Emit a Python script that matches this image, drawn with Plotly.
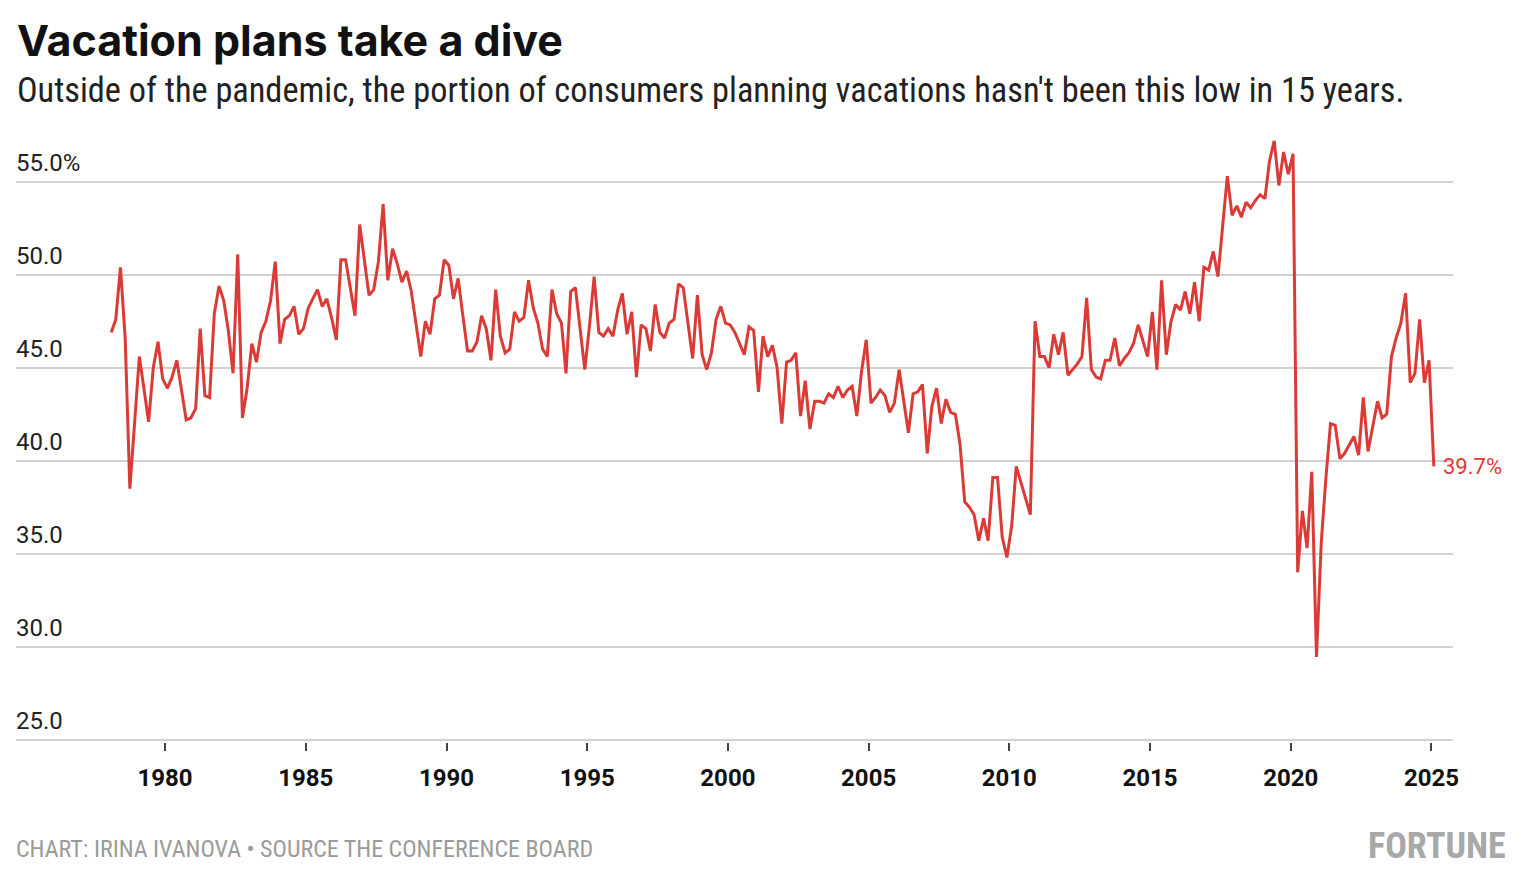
import pandas as pd
import plotly.graph_objects as go

# Share of consumers planning a vacation within six months (%), bi-monthly, Feb 1978 - Feb 2025
start_date = "1978-02-01"
vals_1978_1985 = [46.9, 47.6, 50.4, 46.6, 38.5, 42.0, 45.6, 43.9, 42.1, 45.0, 46.4, 44.4,
                  43.9, 44.5, 45.4, 43.8, 42.2, 42.3, 42.8, 47.1, 43.5, 43.4, 47.9, 49.4,
                  48.6, 47.0, 44.7, 51.1, 42.3, 43.9, 46.3, 45.3, 46.9, 47.5, 48.6, 50.7,
                  46.3, 47.6, 47.8, 48.3, 46.8, 47.1, 48.2, 48.7, 49.2, 48.3, 48.7]
vals_1986_1993 = [47.7, 46.5, 50.8, 50.8, 49.3, 47.8, 52.7, 50.6, 48.9, 49.2, 50.7, 53.8,
                  49.7, 51.4, 50.6, 49.6, 50.2, 49.1, 47.4, 45.6, 47.5, 46.8, 48.7, 48.9,
                  50.8, 50.5, 48.7, 49.8, 47.8, 45.9, 45.9, 46.4, 47.8, 47.1, 45.4, 49.2,
                  46.7, 45.8, 46.0, 48.0, 47.5, 47.7, 49.7, 48.2, 47.4, 46.0, 45.6]
vals_1994_2001 = [49.2, 47.9, 47.4, 44.7, 49.1, 49.3, 47.2, 44.9, 47.3, 49.9, 46.9, 46.7,
                  47.1, 46.7, 48.1, 49.0, 46.8, 48.0, 44.5, 47.3, 47.1, 45.9, 48.4, 46.9,
                  46.6, 47.4, 47.6, 49.5, 49.3, 47.4, 45.5, 48.9, 45.7, 44.9, 45.8, 47.6,
                  48.3, 47.4, 47.3, 46.9, 46.3, 45.7, 47.2, 47.0, 43.7, 46.7, 45.6]
vals_2002_2009 = [46.2, 45.0, 42.0, 45.3, 45.4, 45.8, 42.4, 44.3, 41.7, 43.2, 43.2, 43.1,
                  43.6, 43.4, 44.0, 43.4, 43.8, 44.0, 42.4, 44.8, 46.5, 43.1, 43.4, 43.8,
                  43.5, 42.6, 43.1, 44.9, 43.1, 41.5, 43.6, 43.7, 44.1, 40.4, 42.9, 43.9,
                  42.0, 43.3, 42.6, 42.5, 40.9, 37.8, 37.5, 37.1, 35.7, 36.9, 35.7, 39.1,
                  39.1, 35.9, 34.8, 36.5, 39.7, 38.8, 37.9, 37.1, 47.5, 45.6]
vals_2011_2019 = [45.6, 45.0, 46.8, 45.7, 46.9, 44.6, 44.9, 45.2, 45.6, 48.75, 44.9, 44.5,
                  44.4, 45.4, 45.4, 46.6, 45.1, 45.5, 45.8, 46.3, 47.3, 46.4, 45.6, 48.0,
                  44.9, 49.7, 45.7, 47.5, 48.4, 48.1, 49.1, 47.9, 49.6, 47.5, 50.4, 50.25,
                  51.25, 49.9, 52.6, 55.3, 53.2, 53.7, 53.1, 53.9, 53.6]
vals_2019_2025 = [54.0, 54.3, 54.1, 56.1, 57.2, 54.8, 56.6, 55.4, 56.5, 34.0, 37.3, 35.3,
                  39.4, 29.45, 35.6, 39.0, 42.0, 41.9, 40.1, 40.4, 40.9, 41.3, 40.3, 43.4,
                  40.5, 41.9, 43.2, 42.3, 42.5, 45.6, 46.6, 47.4, 49.0, 44.2, 44.7, 47.6,
                  44.2, 45.4, 39.7]

values = (vals_1978_1985 + vals_1986_1993 + vals_1994_2001 + vals_2002_2009
          + vals_2011_2019 + vals_2019_2025)
dates = pd.date_range(start=start_date, periods=len(values), freq="2MS")

y_ticks = [25, 30, 35, 40, 45, 50, 55]
y_tick_text = ["25.0", "30.0", "35.0", "40.0", "45.0", "50.0", "55.0%"]
x_tick_years = [1980, 1985, 1990, 1995, 2000, 2005, 2010, 2015, 2020, 2025]
last_label = "39.7%"

title_text = "Vacation plans take a dive"
subtitle_text = ("Outside of the pandemic, the portion of consumers planning vacations "
                 "hasn't been this low in 15 years.")
footer_text = "CHART: IRINA IVANOVA • SOURCE THE CONFERENCE BOARD"
brand_text = "FORTUNE"

RED = "#db3b36"
FONT = "Roboto"
COND = "Roboto Condensed"

fig = go.Figure()
fig.add_trace(go.Scatter(
    x=dates, y=values, mode="lines",
    line=dict(color=RED, width=3),
    hoverinfo="x+y", showlegend=False,
))

annotations = []
for v, t in zip(y_ticks, y_tick_text):
    annotations.append(dict(
        x=0, xref="paper", y=v, yref="y", xanchor="left", yanchor="bottom",
        xshift=-2, yshift=3, text=t, showarrow=False,
        font=dict(family=FONT, size=24, color="#222222"),
    ))

annotations.append(dict(
    x=dates[-1], xref="x", y=values[-1], yref="y", xanchor="left", yanchor="middle",
    xshift=7, text=last_label, showarrow=False,
    font=dict(family=FONT, size=22, color=RED),
))

annotations.append(dict(
    x=0, xref="paper", xshift=-1, y=1.147, yref="paper", xanchor="left", yanchor="middle",
    text=f"<b>{title_text}</b>", showarrow=False,
    font=dict(family="Inter", size=43, color="#111111", weight=900),
))
annotations.append(dict(
    x=0, xref="paper", xshift=-1, y=1.065, yref="paper", xanchor="left", yanchor="middle",
    text=subtitle_text, showarrow=False,
    font=dict(family=COND, size=34.3, color="#222222"),
))
annotations.append(dict(
    x=0, xref="paper", xshift=-2, y=-0.175, yref="paper", xanchor="left", yanchor="middle",
    text=footer_text, showarrow=False,
    font=dict(family=COND, size=24, color="#9b9b9b"),
))
annotations.append(dict(
    x=1.0369, xref="paper", xshift=2, y=-0.170, yref="paper", xanchor="right", yanchor="middle",
    text=f"<b>{brand_text}</b>", showarrow=False,
    font=dict(family=COND, size=36, color="#a8a8a8"),
))

fig.update_layout(
    width=1538, height=890,
    margin=dict(l=16, r=85, t=130, b=148),
    paper_bgcolor="white", plot_bgcolor="white",
    annotations=annotations,
    xaxis=dict(
        type="date",
        range=["1974-09-14", "2025-10-08"],
        tickmode="array",
        tickvals=[f"{y}-01-01" for y in x_tick_years],
        ticktext=[f"<b>{y}</b>" for y in x_tick_years],
        ticks="outside", ticklen=8, tickwidth=1.5, tickcolor="#444444",
        ticklabelstandoff=6,
        showgrid=False, zeroline=False, showline=False,
        tickfont=dict(family=FONT, size=24, color="#111111"),
    ),
    yaxis=dict(
        range=[24.88, 57.78],
        tickmode="array", tickvals=y_ticks,
        showticklabels=False,
        showgrid=True, gridcolor="#d2d2d2", gridwidth=2,
        zeroline=False, showline=False, ticks="",
    ),
    hovermode="closest",
)

fig.write_html("out.html", config={"displayModeBar": False},
               post_script="document.body.style.margin='0px';")
